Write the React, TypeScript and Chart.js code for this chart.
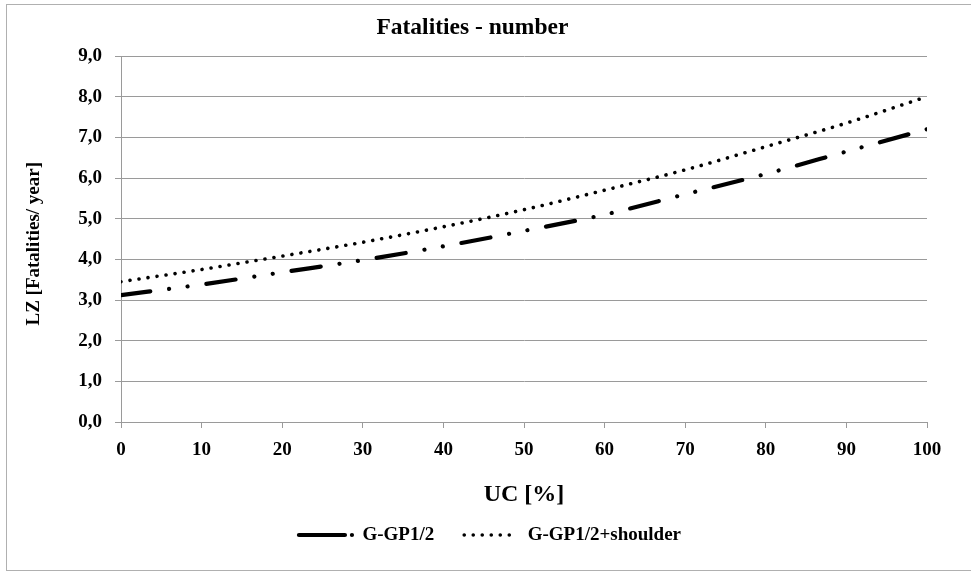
import React, { useEffect, useRef } from 'react';
import { Chart, registerables } from 'chart.js';

Chart.register(...registerables);

// ---- data ----
const ucPercent = [0, 10, 20, 30, 40, 50, 60, 70, 80, 90, 100];
const gGp12 = [3.12, 3.38, 3.68, 3.98, 4.32, 4.7, 5.1, 5.6, 6.1, 6.65, 7.2];
const gGp12Shoulder = [3.45, 3.75, 4.08, 4.42, 4.8, 5.22, 5.7, 6.2, 6.77, 7.35, 8.0];
const seriesLabels = ['G-GP1/2', 'G-GP1/2+shoulder'];
const xTickLabels = ['0', '10', '20', '30', '40', '50', '60', '70', '80', '90', '100'];
const yTickLabels = ['0,0', '1,0', '2,0', '3,0', '4,0', '5,0', '6,0', '7,0', '8,0', '9,0'];
const chartTitle = 'Fatalities - number';
const xAxisTitle = 'UC [%]';
const yAxisTitle = 'LZ [Fatalities/ year]';

const FONT = "'Liberation Serif', 'Times New Roman', serif";
const GRID = '#9a9a9a';

export default function App() {
  const canvasRef = useRef<HTMLCanvasElement | null>(null);

  useEffect(() => {
    const canvas = canvasRef.current;
    if (!canvas) return;
    const lineDashes = [
      [29.5, 19, 0.01, 18.6, 0.01, 19],
      [0.01, 9.1],
    ];
    const lineWidths = [4.2, 3.6];
    const legendDashes = [
      [46, 7, 0.01, 200],
      [0.01, 9],
    ];
    const chart: any = new Chart(canvas, {
      type: 'line',
      data: {
        datasets: [
          {
            label: seriesLabels[0],
            data: ucPercent.map((x, i) => ({ x, y: gGp12[i] })),
            borderColor: '#000',
            backgroundColor: '#000',
            borderWidth: lineWidths[0],
            borderDash: lineDashes[0],
            borderCapStyle: 'round',
            pointRadius: 0,
            cubicInterpolationMode: 'monotone',
            fill: false,
          },
          {
            label: seriesLabels[1],
            data: ucPercent.map((x, i) => ({ x, y: gGp12Shoulder[i] })),
            borderColor: '#000',
            backgroundColor: '#000',
            borderWidth: lineWidths[1],
            borderDash: lineDashes[1],
            borderCapStyle: 'round',
            pointRadius: 0,
            cubicInterpolationMode: 'monotone',
            fill: false,
          },
        ],
      },
      options: {
        responsive: false,
        animation: false,
        events: [],
        layout: { padding: { left: 53, right: 44, top: 0, bottom: 18.5 } },
        plugins: {
          tooltip: { enabled: false },
          title: {
            display: true,
            text: chartTitle + '      ',
            color: '#000',
            font: { family: FONT, size: 23.5, weight: 'bold' },
            padding: { top: 13.5, bottom: 14.3 },
          },
          legend: {
            display: true,
            position: 'bottom',
            labels: {
              color: '#000',
              font: { family: FONT, size: 19, weight: 'bold' },
              usePointStyle: true,
              pointStyle: 'line',
              pointStyleWidth: 54,
              padding: 30,
              generateLabels: (c: any) =>
                c.data.datasets.map((ds: any, i: number) => ({
                  text: ds.label,
                  fillStyle: '#000',
                  strokeStyle: '#000',
                  lineWidth: lineWidths[i],
                  lineDash: legendDashes[i],
                  lineCap: 'round',
                  pointStyle: 'line',
                  hidden: false,
                  datasetIndex: i,
                  fontColor: '#000',
                })),
            },
          },
        },
        scales: {
          x: {
            type: 'linear',
            min: 0,
            max: 100,
            ticks: {
              stepSize: 10,
              autoSkip: false,
              maxRotation: 0,
              padding: 11,
              color: '#000',
              font: { family: FONT, size: 19, weight: 'bold' },
              callback: (_v: any, i: number) => xTickLabels[i],
            },
            grid: {
              drawOnChartArea: false,
              drawTicks: true,
              tickLength: 6,
              color: GRID,
              lineWidth: 1,
            },
            border: { display: true, color: GRID, width: 1 },
            title: {
              display: true,
              text: xAxisTitle,
              color: '#000',
              font: { family: FONT, size: 24, weight: 'bold' },
              padding: { top: 7.8, bottom: -13.9 },
            },
          },
          y: {
            type: 'linear',
            min: 0,
            max: 9,
            ticks: {
              stepSize: 1,
              padding: 13,
              color: '#000',
              font: { family: FONT, size: 19, weight: 'bold' },
              callback: (_v: any, i: number) => yTickLabels[i],
            },
            grid: {
              drawTicks: true,
              tickLength: 6,
              color: GRID,
              lineWidth: 1,
            },
            border: { display: true, color: GRID, width: 1 },
            title: {
              display: true,
              text: yAxisTitle + '  ',
              color: '#000',
              font: { family: FONT, size: 19, weight: 'bold' },
              padding: { top: -30.4, bottom: 19.85 },
            },
          },
        },
      },
    } as any);
    return () => chart.destroy();
  }, []);

  return (
    <div
      style={{
        position: 'fixed',
        left: 0,
        top: 0,
        width: 971,
        height: 573,
        overflow: 'hidden',
        background: '#fff',
      }}
    >
      <div
        style={{
          position: 'absolute',
          left: 6,
          top: 4,
          width: 1000,
          height: 567,
          border: '1px solid #b0b0b0',
          boxSizing: 'border-box',
        }}
      />
      <canvas
        ref={canvasRef}
        width={971}
        height={573}
        style={{ position: 'absolute', left: 0, top: 0, width: 971, height: 573 }}
      />
    </div>
  );
}
